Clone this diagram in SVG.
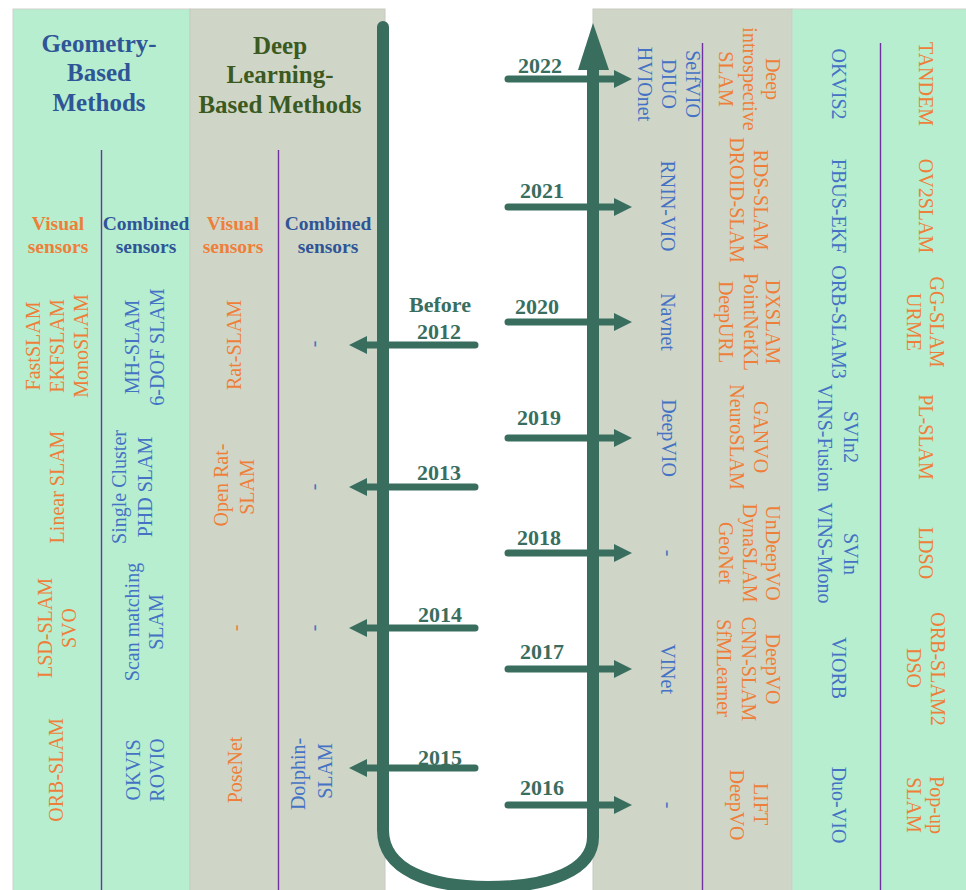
<svg xmlns="http://www.w3.org/2000/svg" width="966" height="890" viewBox="0 0 966 890">
  <style>
    text { font-family: "Liberation Serif", "Times New Roman", serif; }
    .hdr-geo { font-size: 25px; font-weight: bold; fill: #2f5597; text-anchor: middle; }
    .hdr-dl { font-size: 25px; font-weight: bold; fill: #3b5a22; text-anchor: middle; }
    .sub-o { font-size: 19.5px; font-weight: bold; fill: #ee7f3a; text-anchor: middle; }
    .sub-b { font-size: 19.5px; font-weight: bold; fill: #2f5597; text-anchor: middle; }
    .o { font-size: 20px; fill: #ee7f3a; text-anchor: middle; }
    .b { font-size: 20px; fill: #4472c4; text-anchor: middle; }
    .year { font-size: 22px; font-weight: bold; fill: #396e5f; text-anchor: middle; }
    .green { fill: #b6eecf; stroke: #d0d0cc; stroke-width: 1; }
    .gray { fill: #d0d6c7; stroke: #c6c9c0; stroke-width: 1; }
    .divider { stroke: #7030a0; stroke-width: 1.4; }
    .tube { fill: none; stroke: #396e5f; stroke-width: 12; stroke-linecap: round; }
    .yr-line { stroke: #396e5f; stroke-width: 7; stroke-linecap: round; }
  </style>
  <defs>
    <marker id="head" markerUnits="userSpaceOnUse" viewBox="0 0 18 18" refX="0" refY="9" markerWidth="18" markerHeight="18" orient="auto">
      <path d="M0,0 L18,9 L0,18 z" fill="#396e5f"/>
    </marker>
  </defs>

  <rect width="966" height="890" fill="#ffffff"/>

  <!-- background panels -->
  <g id="panels">
    <rect class="green" x="13" y="9" width="177" height="890"/>
    <rect class="gray" x="190" y="9" width="195" height="890"/>
    <rect class="gray" x="593" y="9" width="199" height="890"/>
    <rect class="green" x="792" y="9" width="180" height="890"/>
    <line class="divider" x1="101.5" y1="150" x2="101.5" y2="890"/>
    <line class="divider" x1="278.5" y1="150" x2="278.5" y2="890"/>
    <line class="divider" x1="702.5" y1="43" x2="702.5" y2="890"/>
    <line class="divider" x1="880.5" y1="43" x2="880.5" y2="890"/>
  </g>

  <!-- column headers -->
  <g id="header-geometry">
    <text class="hdr-geo" x="99" y="52">Geometry-</text>
    <text class="hdr-geo" x="99" y="81">Based</text>
    <text class="hdr-geo" x="99" y="111">Methods</text>
  </g>
  <g id="header-deep">
    <text class="hdr-dl" x="280" y="54">Deep</text>
    <text class="hdr-dl" x="280" y="83">Learning-</text>
    <text class="hdr-dl" x="280" y="113">Based Methods</text>
  </g>
  <g id="sub-geo-visual">
    <text class="sub-o" x="58" y="230">Visual</text>
    <text class="sub-o" x="58" y="253">sensors</text>
  </g>
  <g id="sub-geo-combined">
    <text class="sub-b" x="146" y="230">Combined</text>
    <text class="sub-b" x="146" y="253">sensors</text>
  </g>
  <g id="sub-dl-visual">
    <text class="sub-o" x="233" y="230">Visual</text>
    <text class="sub-o" x="233" y="253">sensors</text>
  </g>
  <g id="sub-dl-combined">
    <text class="sub-b" x="328" y="230">Combined</text>
    <text class="sub-b" x="328" y="253">sensors</text>
  </g>

  <!-- timeline: U-shaped track and year arrows -->
  <g id="connectors">
    <path class="tube" d="M383,27 L383,830 C383,870 430,887 488,887 C550,887 593,870 593,837 L593,68"/>
    <polygon points="578,70 593,23 609,70" fill="#396e5f"/>
    <!-- later years point right -->
    <line class="yr-line" x1="508" y1="79" x2="614" y2="79" marker-end="url(#head)"/>
    <line class="yr-line" x1="508" y1="207" x2="614" y2="207" marker-end="url(#head)"/>
    <line class="yr-line" x1="508" y1="322" x2="614" y2="322" marker-end="url(#head)"/>
    <line class="yr-line" x1="508" y1="438" x2="614" y2="438" marker-end="url(#head)"/>
    <line class="yr-line" x1="508" y1="553" x2="614" y2="553" marker-end="url(#head)"/>
    <line class="yr-line" x1="508" y1="669" x2="614" y2="669" marker-end="url(#head)"/>
    <line class="yr-line" x1="508" y1="805" x2="614" y2="805" marker-end="url(#head)"/>
    <!-- earlier years point left -->
    <line class="yr-line" x1="475" y1="345" x2="367" y2="345" marker-end="url(#head)"/>
    <line class="yr-line" x1="475" y1="487" x2="367" y2="487" marker-end="url(#head)"/>
    <line class="yr-line" x1="475" y1="628" x2="367" y2="628" marker-end="url(#head)"/>
    <line class="yr-line" x1="475" y1="768" x2="367" y2="768" marker-end="url(#head)"/>
  </g>

  <g id="years">
    <text class="year" x="540" y="73">2022</text>
    <text class="year" x="542" y="198">2021</text>
    <text class="year" x="537" y="314">2020</text>
    <text class="year" x="539" y="425">2019</text>
    <text class="year" x="539" y="545">2018</text>
    <text class="year" x="542" y="659">2017</text>
    <text class="year" x="542" y="795">2016</text>
    <text class="year" x="440" y="312">Before</text>
    <text class="year" x="439" y="339">2012</text>
    <text class="year" x="439" y="480">2013</text>
    <text class="year" x="440" y="622">2014</text>
    <text class="year" x="440" y="765">2015</text>
  </g>

  <!-- geometry-based, visual sensors (left, read bottom-to-top) -->
  <g id="geo-visual-2012">
    <text class="o" transform="translate(40,346) rotate(-90)">FastSLAM</text>
    <text class="o" transform="translate(64,346) rotate(-90)">EKFSLAM</text>
    <text class="o" transform="translate(88,346) rotate(-90)">MonoSLAM</text>
  </g>
  <g id="geo-visual-2013">
    <text class="o" transform="translate(64,487) rotate(-90)">Linear SLAM</text>
  </g>
  <g id="geo-visual-2014">
    <text class="o" transform="translate(52,628) rotate(-90)">LSD-SLAM</text>
    <text class="o" transform="translate(76,628) rotate(-90)">SVO</text>
  </g>
  <g id="geo-visual-2015">
    <text class="o" transform="translate(63,770) rotate(-90)">ORB-SLAM</text>
  </g>

  <!-- geometry-based, combined sensors -->
  <g id="geo-combined-2012">
    <text class="b" transform="translate(139,347) rotate(-90)">MH-SLAM</text>
    <text class="b" transform="translate(164,347) rotate(-90)">6-DOF SLAM</text>
  </g>
  <g id="geo-combined-2013">
    <text class="b" transform="translate(126,487) rotate(-90)">Single Cluster</text>
    <text class="b" transform="translate(152,487) rotate(-90)">PHD SLAM</text>
  </g>
  <g id="geo-combined-2014">
    <text class="b" transform="translate(139,622) rotate(-90)">Scan matching</text>
    <text class="b" transform="translate(163,622) rotate(-90)">SLAM</text>
  </g>
  <g id="geo-combined-2015">
    <text class="b" transform="translate(140,770) rotate(-90)">OKVIS</text>
    <text class="b" transform="translate(164,770) rotate(-90)">ROVIO</text>
  </g>

  <!-- deep learning, visual sensors -->
  <g id="dl-visual-2012">
    <text class="o" transform="translate(241,345) rotate(-90)">Rat-SLAM</text>
  </g>
  <g id="dl-visual-2013">
    <text class="o" transform="translate(228,485) rotate(-90)">Open Rat-</text>
    <text class="o" transform="translate(254,487) rotate(-90)">SLAM</text>
  </g>
  <g id="dl-visual-2014">
    <text class="o" transform="translate(242,628) rotate(-90)">-</text>
  </g>
  <g id="dl-visual-2015">
    <text class="o" transform="translate(242,770) rotate(-90)">PoseNet</text>
  </g>

  <!-- deep learning, combined sensors -->
  <g id="dl-combined-2012">
    <text class="b" transform="translate(320,344) rotate(-90)">-</text>
  </g>
  <g id="dl-combined-2013">
    <text class="b" transform="translate(320,487) rotate(-90)">-</text>
  </g>
  <g id="dl-combined-2014">
    <text class="b" transform="translate(320,628) rotate(-90)">-</text>
  </g>
  <g id="dl-combined-2015">
    <text class="b" transform="translate(305,774) rotate(-90)">Dolphin-</text>
    <text class="b" transform="translate(332,771) rotate(-90)">SLAM</text>
  </g>

  <!-- deep learning, combined sensors (right, read top-to-bottom) -->
  <g id="dl-combined-2022">
    <text class="b" transform="translate(686,84) rotate(90)">SelfVIO</text>
    <text class="b" transform="translate(662,84) rotate(90)">DIUO</text>
    <text class="b" transform="translate(638,84) rotate(90)">HVIOnet</text>
  </g>
  <g id="dl-combined-2021">
    <text class="b" transform="translate(661,206) rotate(90)">RNIN-VIO</text>
  </g>
  <g id="dl-combined-2020">
    <text class="b" transform="translate(661,322) rotate(90)">Navnet</text>
  </g>
  <g id="dl-combined-2019">
    <text class="b" transform="translate(662,438) rotate(90)">DeepVIO</text>
  </g>
  <g id="dl-combined-2018">
    <text class="b" transform="translate(661.5,553) rotate(90)">-</text>
  </g>
  <g id="dl-combined-2017">
    <text class="b" transform="translate(661,669) rotate(90)">VINet</text>
  </g>
  <g id="dl-combined-2016">
    <text class="b" transform="translate(661.5,805) rotate(90)">-</text>
  </g>

  <!-- deep learning, visual sensors (right) -->
  <g id="dl-visual-2022">
    <text class="o" transform="translate(766,79) rotate(90)">Deep</text>
    <text class="o" transform="translate(743,79) rotate(90)">introspective</text>
    <text class="o" transform="translate(719,79) rotate(90)">SLAM</text>
  </g>
  <g id="dl-visual-2021">
    <text class="o" transform="translate(754,200) rotate(90)">RDS-SLAM</text>
    <text class="o" transform="translate(730,200) rotate(90)">DROID-SLAM</text>
  </g>
  <g id="dl-visual-2020">
    <text class="o" transform="translate(766,322) rotate(90)">DXSLAM</text>
    <text class="o" transform="translate(744,322) rotate(90)">PointNetKL</text>
    <text class="o" transform="translate(719,322) rotate(90)">DeepURL</text>
  </g>
  <g id="dl-visual-2019">
    <text class="o" transform="translate(754,437) rotate(90)">GANVO</text>
    <text class="o" transform="translate(730,437) rotate(90)">NeuroSLAM</text>
  </g>
  <g id="dl-visual-2018">
    <text class="o" transform="translate(766,553) rotate(90)">UnDeepVO</text>
    <text class="o" transform="translate(743,553) rotate(90)">DynaSLAM</text>
    <text class="o" transform="translate(719,553) rotate(90)">GeoNet</text>
  </g>
  <g id="dl-visual-2017">
    <text class="o" transform="translate(766,669) rotate(90)">DeepVO</text>
    <text class="o" transform="translate(742,669) rotate(90)">CNN-SLAM</text>
    <text class="o" transform="translate(717,668) rotate(90)">SfMLearner</text>
  </g>
  <g id="dl-visual-2016">
    <text class="o" transform="translate(754,804) rotate(90)">LIFT</text>
    <text class="o" transform="translate(730,805) rotate(90)">DeepVO</text>
  </g>

  <!-- geometry-based, combined sensors (right) -->
  <g id="geo-combined-2022">
    <text class="b" transform="translate(832,84) rotate(90)">OKVIS2</text>
  </g>
  <g id="geo-combined-2021">
    <text class="b" transform="translate(832,206) rotate(90)">FBUS-EKF</text>
  </g>
  <g id="geo-combined-2020">
    <text class="b" transform="translate(832,322) rotate(90)">ORB-SLAM3</text>
  </g>
  <g id="geo-combined-2019">
    <text class="b" transform="translate(844,437) rotate(90)">SVIn2</text>
    <text class="b" transform="translate(818,438) rotate(90)">VINS-Fusion</text>
  </g>
  <g id="geo-combined-2018">
    <text class="b" transform="translate(844,554) rotate(90)">SVIn</text>
    <text class="b" transform="translate(818,553) rotate(90)">VINS-Mono</text>
  </g>
  <g id="geo-combined-2017">
    <text class="b" transform="translate(832,668) rotate(90)">VIORB</text>
  </g>
  <g id="geo-combined-2016">
    <text class="b" transform="translate(832,805) rotate(90)">Duo-VIO</text>
  </g>

  <!-- geometry-based, visual sensors (right) -->
  <g id="geo-visual-2022">
    <text class="o" transform="translate(919,84) rotate(90)">TANDEM</text>
  </g>
  <g id="geo-visual-2021">
    <text class="o" transform="translate(919,206) rotate(90)">OV2SLAM</text>
  </g>
  <g id="geo-visual-2020">
    <text class="o" transform="translate(930,322) rotate(90)">GG-SLAM</text>
    <text class="o" transform="translate(907,322) rotate(90)">URME</text>
  </g>
  <g id="geo-visual-2019">
    <text class="o" transform="translate(919,437) rotate(90)">PL-SLAM</text>
  </g>
  <g id="geo-visual-2018">
    <text class="o" transform="translate(919,553) rotate(90)">LDSO</text>
  </g>
  <g id="geo-visual-2017">
    <text class="o" transform="translate(931,669) rotate(90)">ORB-SLAM2</text>
    <text class="o" transform="translate(907,668) rotate(90)">DSO</text>
  </g>
  <g id="geo-visual-2016">
    <text class="o" transform="translate(930,805) rotate(90)">Pop-up</text>
    <text class="o" transform="translate(907,805) rotate(90)">SLAM</text>
  </g>
</svg>
